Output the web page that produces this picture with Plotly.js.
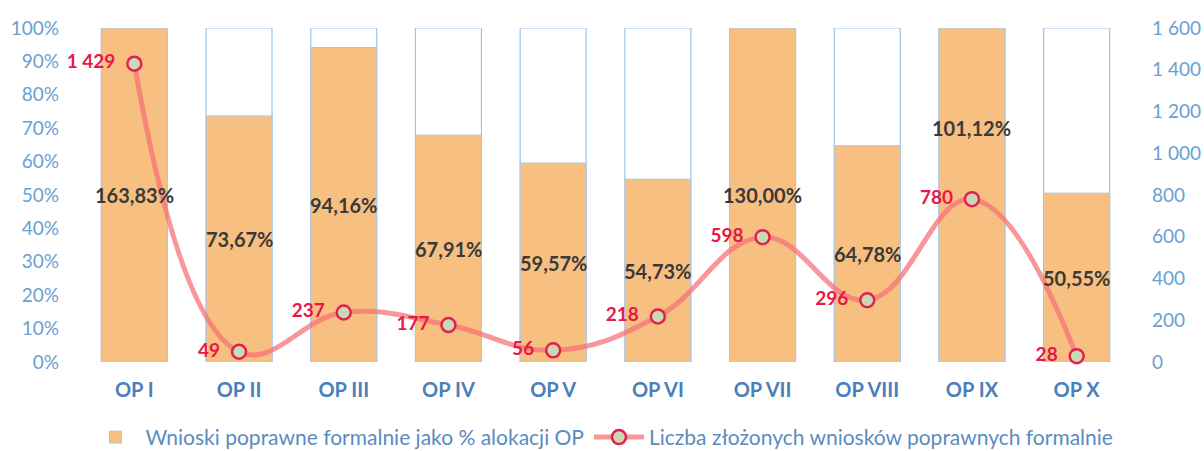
<!DOCTYPE html>
<html>
<head>
<meta charset="utf-8">
<script src="https://cdn.plot.ly/plotly-3.0.1.min.js"></script>
<style>html,body{margin:0;padding:0;background:#fff;}#chart{width:1204px;height:451px;}</style>
</head>
<body>
<div id="chart"></div>
<script>
var categories = ["OP I","OP II","OP III","OP IV","OP V","OP VI","OP VII","OP VIII","OP IX","OP X"];
var pctOfAllocation = [163.83, 73.67, 94.16, 67.91, 59.57, 54.73, 130.00, 64.78, 101.12, 50.55];
var applications = [1429, 49, 237, 177, 56, 218, 598, 296, 780, 28];
var leftTicks = [0,10,20,30,40,50,60,70,80,90,100];
var rightTicks = [0,200,400,600,800,1000,1200,1400,1600];

var fontFam = "Lato, 'Open Sans', sans-serif";
function fmtNum(n){ return String(n).replace(/\B(?=(\d{3})+(?!\d))/g, " "); }
function fmtPct(v){ return v.toFixed(2).replace(".", ",") + "%"; }

var capped = pctOfAllocation.map(function(v){ return Math.min(v, 100); });
var full = categories.map(function(){ return 100; });

var bgBars = {
  type: "bar", x: categories, y: full, width: 0.63,
  marker: {color: "#ffffff", line: {color: "#9fc4e8", width: 1.2}},
  showlegend: false, hoverinfo: "skip", yaxis: "y"
};
var bars = {
  type: "bar", x: categories, y: capped, width: 0.63,
  name: "Wnioski poprawne formalnie jako % alokacji OP",
  marker: {color: "#f8c080", line: {color: "#a9c8e6", width: 1}},
  yaxis: "y"
};
var line = {
  type: "scatter", mode: "lines+markers+text", x: categories, y: applications,
  name: "Liczba złożonych wniosków poprawnych formalnie",
  yaxis: "y2",
  line: {shape: "spline", smoothing: 1.2, color: "rgba(245,115,120,0.75)", width: 5},
  marker: {symbol: "circle", size: 14, color: "#c9d9b4", line: {color: "#e3204d", width: 2.5}},
  text: applications.map(function(v){ return fmtNum(v) + "\u00a0\u00a0"; }),
  textposition: "middle left",
  textfont: {family: fontFam, size: 19, color: "#e8174a", weight: "bold"},
  cliponaxis: false
};

var labelY = capped.map(function(v){ return v / 2; });
labelY[8] = 70;
var annotations = categories.map(function(c, i){
  return {x: c, y: labelY[i], xref: "x", yref: "y", text: "<b>" + fmtPct(pctOfAllocation[i]) + "</b>",
    showarrow: false, font: {family: fontFam, size: 20, color: "#3a3a3a"}};
});

var layout = {
  width: 1204, height: 451,
  margin: {l: 82, r: 75, t: 28, b: 89},
  paper_bgcolor: "#ffffff", plot_bgcolor: "#ffffff",
  barmode: "overlay",
  showlegend: true,
  legend: {orientation: "h", x: 0.5, xanchor: "center", xref: "container", yref: "container", y: 0.03, yanchor: "middle",
    font: {family: fontFam, size: 21, color: "#5a8cc0"}, itemwidth: 50, traceorder: "normal"},
  xaxis: {type: "category", showgrid: false, zeroline: false, showline: false, ticks: "",
    tickfont: {family: fontFam, size: 20, color: "#4a7fbb", weight: "bold"}, ticklabelstandoff: 14,
    range: [-0.5, 9.5]},
  yaxis: {range: [0, 100], tickvals: leftTicks, ticktext: leftTicks.map(function(v){return v + "%";}),
    showgrid: false, zeroline: false, showline: false, ticks: "",
    tickfont: {family: fontFam, size: 19, color: "#6aa0d2"}, ticklabelstandoff: 22},
  yaxis2: {range: [0, 1600], overlaying: "y", side: "right", tickvals: rightTicks,
    ticktext: rightTicks.map(fmtNum), showgrid: false, zeroline: false, showline: false, ticks: "",
    tickfont: {family: fontFam, size: 19, color: "#6aa0d2"}, ticklabelstandoff: 22},
  annotations: annotations
};

Plotly.newPlot("chart", [bgBars, bars, line], layout, {displayModeBar: false, staticPlot: true});
</script>
</body>
</html>
